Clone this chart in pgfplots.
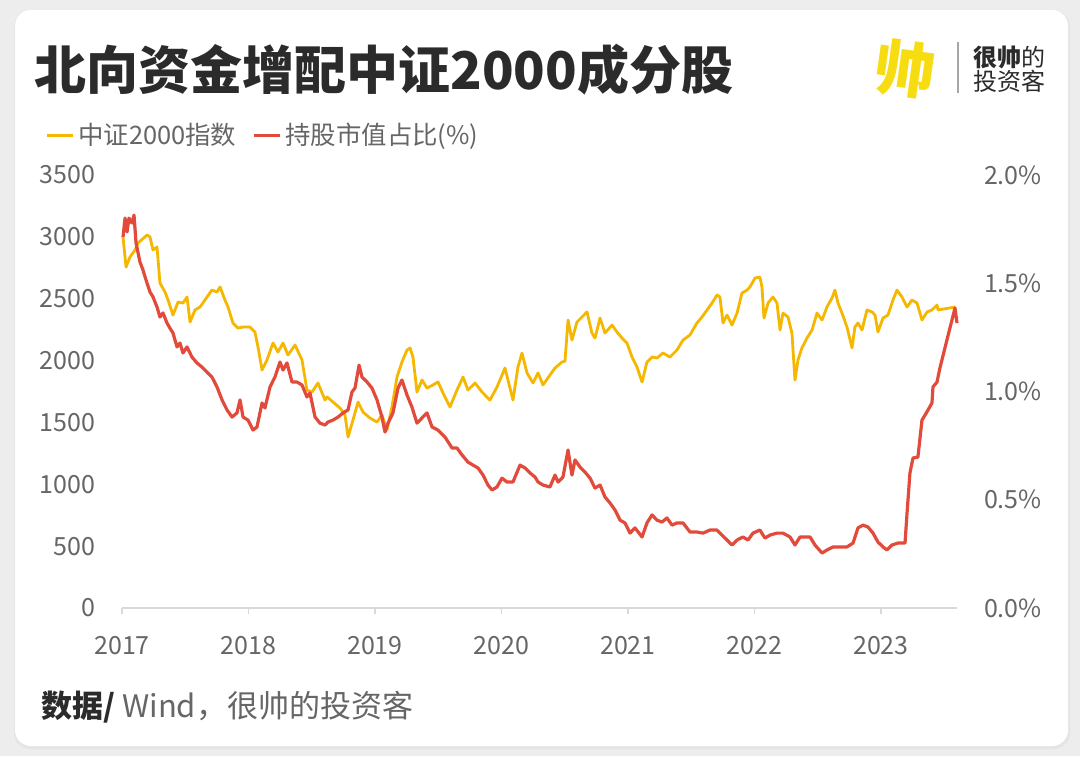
\documentclass[border=0pt]{standalone}
\usepackage{fontspec}
\setmainfont{Noto Sans CJK SC}
\usepackage{pgfplots}
\pgfplotsset{compat=1.18}
\usepackage{pgfplotstable}
\definecolor{bggray}{HTML}{EDEDED}
\definecolor{cyellow}{HTML}{F5B700}
\definecolor{cred}{HTML}{E24A3B}
\definecolor{tgray}{HTML}{666666}
\definecolor{titlec}{HTML}{2B2B2B}
\definecolor{axgray}{HTML}{D9D9D9}
\definecolor{logoy}{HTML}{F7DC12}

\pgfplotstableread{
year idx
2017.008 2999
2017.032 2756
2017.063 2837
2017.103 2894
2017.126 2950
2017.198 3015
2017.221 3000
2017.245 2894
2017.277 2918
2017.300 2627
2017.340 2554
2017.364 2490
2017.403 2368
2017.443 2473
2017.482 2465
2017.514 2514
2017.538 2312
2017.577 2409
2017.617 2433
2017.672 2514
2017.711 2570
2017.751 2554
2017.775 2595
2017.814 2490
2017.838 2433
2017.877 2304
2017.917 2263
2017.957 2271
2018.012 2271
2018.051 2231
2018.075 2110
2018.107 1924
2018.146 2005
2018.194 2142
2018.233 2069
2018.273 2142
2018.312 2045
2018.368 2126
2018.423 2005
2018.462 1762
2018.502 1746
2018.549 1819
2018.605 1681
2018.621 1706
2018.668 1665
2018.723 1617
2018.763 1560
2018.787 1382
2018.826 1520
2018.866 1665
2018.905 1584
2018.960 1536
2019.016 1503
2019.055 1560
2019.095 1439
2019.134 1625
2019.174 1867
2019.213 1988
2019.253 2085
2019.277 2102
2019.300 2029
2019.332 1746
2019.372 1843
2019.411 1778
2019.458 1803
2019.498 1827
2019.538 1738
2019.593 1625
2019.648 1762
2019.696 1867
2019.735 1762
2019.791 1819
2019.846 1746
2019.909 1681
2019.964 1786
2020.028 1940
2020.051 1843
2020.091 1681
2020.130 1948
2020.162 2061
2020.202 1900
2020.249 1819
2020.289 1900
2020.328 1803
2020.383 1883
2020.423 1940
2020.478 1988
2020.502 1996
2020.526 2328
2020.557 2166
2020.597 2312
2020.636 2352
2020.676 2393
2020.715 2223
2020.739 2182
2020.779 2344
2020.818 2223
2020.874 2287
2020.913 2231
2020.953 2182
2020.992 2142
2021.032 2029
2021.071 1948
2021.111 1827
2021.150 1988
2021.190 2029
2021.229 2021
2021.277 2061
2021.332 2029
2021.387 2085
2021.435 2166
2021.490 2207
2021.545 2304
2021.585 2352
2021.625 2409
2021.664 2465
2021.704 2530
2021.727 2514
2021.751 2304
2021.783 2368
2021.822 2287
2021.862 2384
2021.901 2546
2021.941 2570
2021.964 2595
2022.004 2667
2022.043 2675
2022.059 2595
2022.075 2344
2022.107 2465
2022.146 2514
2022.178 2465
2022.202 2247
2022.225 2384
2022.265 2352
2022.296 2223
2022.320 1843
2022.344 2005
2022.375 2102
2022.415 2182
2022.455 2247
2022.494 2384
2022.534 2328
2022.573 2433
2022.613 2506
2022.636 2570
2022.660 2465
2022.692 2384
2022.731 2271
2022.771 2102
2022.794 2271
2022.818 2304
2022.850 2247
2022.889 2409
2022.929 2393
2022.953 2368
2022.976 2231
2023.016 2344
2023.055 2368
2023.095 2490
2023.126 2570
2023.166 2514
2023.206 2433
2023.245 2490
2023.285 2465
2023.324 2328
2023.364 2393
2023.403 2409
2023.443 2449
2023.451 2409
2023.585 2433
}\csi

\pgfplotstableread{
year pct
2017.008 1.714
2017.024 1.801
2017.040 1.737
2017.055 1.801
2017.079 1.778
2017.095 1.815
2017.111 1.686
2017.142 1.598
2017.166 1.561
2017.190 1.515
2017.221 1.460
2017.245 1.437
2017.277 1.390
2017.300 1.344
2017.324 1.363
2017.356 1.316
2017.379 1.293
2017.403 1.270
2017.435 1.206
2017.458 1.224
2017.482 1.178
2017.514 1.206
2017.553 1.159
2017.593 1.132
2017.632 1.113
2017.672 1.090
2017.711 1.067
2017.751 1.021
2017.791 0.961
2017.830 0.915
2017.870 0.882
2017.909 0.901
2017.933 0.961
2017.957 0.882
2017.996 0.868
2018.036 0.822
2018.067 0.836
2018.107 0.947
2018.130 0.924
2018.170 1.021
2018.209 1.067
2018.249 1.136
2018.273 1.099
2018.304 1.132
2018.344 1.044
2018.383 1.044
2018.423 1.030
2018.462 0.975
2018.486 0.993
2018.526 0.882
2018.565 0.854
2018.605 0.845
2018.628 0.859
2018.668 0.868
2018.708 0.882
2018.747 0.901
2018.787 0.915
2018.818 0.998
2018.842 1.016
2018.874 1.122
2018.897 1.067
2018.937 1.044
2018.976 1.016
2019.016 0.961
2019.055 0.882
2019.079 0.813
2019.103 0.854
2019.142 0.901
2019.182 1.016
2019.213 1.053
2019.253 0.984
2019.292 0.928
2019.332 0.854
2019.372 0.878
2019.411 0.901
2019.451 0.836
2019.498 0.822
2019.553 0.790
2019.609 0.739
2019.648 0.739
2019.688 0.707
2019.735 0.674
2019.775 0.660
2019.814 0.647
2019.854 0.614
2019.893 0.568
2019.925 0.545
2019.964 0.559
2020.004 0.600
2020.043 0.582
2020.091 0.582
2020.146 0.660
2020.186 0.647
2020.225 0.624
2020.265 0.605
2020.289 0.582
2020.328 0.568
2020.383 0.559
2020.423 0.614
2020.447 0.582
2020.486 0.605
2020.526 0.730
2020.557 0.614
2020.581 0.684
2020.621 0.651
2020.660 0.628
2020.700 0.600
2020.739 0.554
2020.779 0.568
2020.818 0.513
2020.858 0.485
2020.897 0.453
2020.937 0.406
2020.976 0.393
2021.016 0.346
2021.055 0.370
2021.111 0.328
2021.150 0.393
2021.190 0.430
2021.229 0.406
2021.269 0.397
2021.308 0.416
2021.348 0.383
2021.387 0.393
2021.435 0.393
2021.490 0.351
2021.545 0.351
2021.593 0.346
2021.648 0.360
2021.704 0.360
2021.743 0.337
2021.783 0.314
2021.822 0.291
2021.862 0.314
2021.909 0.328
2021.949 0.314
2021.988 0.346
2022.043 0.360
2022.083 0.323
2022.123 0.337
2022.178 0.346
2022.225 0.346
2022.281 0.328
2022.320 0.291
2022.360 0.328
2022.399 0.328
2022.439 0.328
2022.478 0.291
2022.534 0.254
2022.573 0.268
2022.621 0.282
2022.676 0.282
2022.731 0.282
2022.779 0.300
2022.818 0.370
2022.858 0.383
2022.897 0.374
2022.937 0.346
2022.976 0.305
2023.016 0.282
2023.047 0.268
2023.087 0.291
2023.134 0.300
2023.190 0.300
2023.206 0.439
2023.229 0.624
2023.253 0.693
2023.292 0.697
2023.324 0.868
2023.348 0.891
2023.372 0.915
2023.403 0.947
2023.411 1.021
2023.443 1.044
2023.466 1.109
2023.585 1.386
2023.601 1.316
}\share

\begin{document}
\begin{tikzpicture}
\fill[bggray] (0,0) rectangle (540pt,-378pt);
\begin{scope}[x=0.5pt,y=-0.5pt]
  \fill[black!10, rounded corners=8pt] (14,11) rectangle (1070,749);
  \fill[white, rounded corners=8pt] (15,10) rectangle (1068,746);
  \node[anchor=west, inner sep=0pt, font=\fontsize{26}{30}\selectfont\bfseries, text=titlec] at (34,70) {北向资金增配中证2000成分股};
  % logo
  \node[font=\fontsize{30}{30}\selectfont\bfseries, text=logoy, rotate=-8] at (905,69) {帅};
  \draw[gray!70, line width=0.7pt] (958,42) -- (958,93);
  \node[anchor=west, inner sep=0pt, font=\fontsize{12}{14}\selectfont, text=titlec] at (973,57) {\textbf{很帅}的};
  \node[anchor=west, inner sep=0pt, font=\fontsize{12}{14}\selectfont, text=titlec] at (973,81) {投资客};
  % footer
  \node[anchor=west, inner sep=0pt, font=\fontsize{15.5}{18}\selectfont, text=titlec] at (41,707) {\textbf{数据/} \textcolor{tgray}{Wind，很帅的投资客}};
\end{scope}

\begin{axis}[
  at={(61pt,-304pt)}, anchor=south west, scale only axis,
  width=417.5pt, height=216.5pt,
  xmin=2017, xmax=2023.601, ymin=0, ymax=3500,
  axis x line*=bottom, axis y line*=left,
  y axis line style={draw=none},
  x axis line style={draw=axgray, line width=0.6pt},
  xtick={2017,2018,...,2023}, ytick={0,500,...,3500},
  tick align=outside, major tick length=3pt,
  xtick style={draw=axgray, line width=0.6pt}, ytick style={draw=none},
  ticklabel style={font=\fontsize{12.5}{14}\selectfont, text=tgray},
  /pgf/number format/1000 sep={}, /pgf/number format/assume math mode=true,
  yticklabel style={xshift=-7pt},
  xticklabel style={yshift=-7.5pt},
  legend style={at={(-0.092,1.092)}, anchor=west, draw=none, fill=none,
    legend columns=2, font=\fontsize{12.7}{15}\selectfont, text=tgray, inner sep=0pt,
    /tikz/every even column/.append style={column sep=6pt}},
  legend image code/.code={\draw[#1] (0pt,0pt) -- (13pt,0pt);},
  legend cell align=left,
  clip=false,
]
\addplot[cyellow, line width=1.4pt, line join=round] table[x=year, y=idx] {\csi};
\addlegendentry{中证2000指数}
\addlegendimage{cred, line width=1.6pt}
\addlegendentry{持股市值占比(\%)}
\end{axis}

\begin{axis}[
  at={(61pt,-304pt)}, anchor=south west, scale only axis,
  width=417.5pt, height=216.5pt,
  xmin=2017, xmax=2023.601, ymin=0, ymax=2,
  axis x line=none, axis y line*=right,
  y axis line style={draw=none},
  ytick={0,0.5,1,1.5,2},
  yticklabels={0.0\%,0.5\%,1.0\%,1.5\%,2.0\%},
  tick align=outside, major tick length=3pt,
  ytick style={draw=none},
  ticklabel style={font=\fontsize{12.5}{14}\selectfont, text=tgray},
  yticklabel style={xshift=7pt},
  clip=false,
]
\addplot[cred, line width=1.6pt, line join=round] table[x=year, y=pct] {\share};
\end{axis}
\end{tikzpicture}
\end{document}
